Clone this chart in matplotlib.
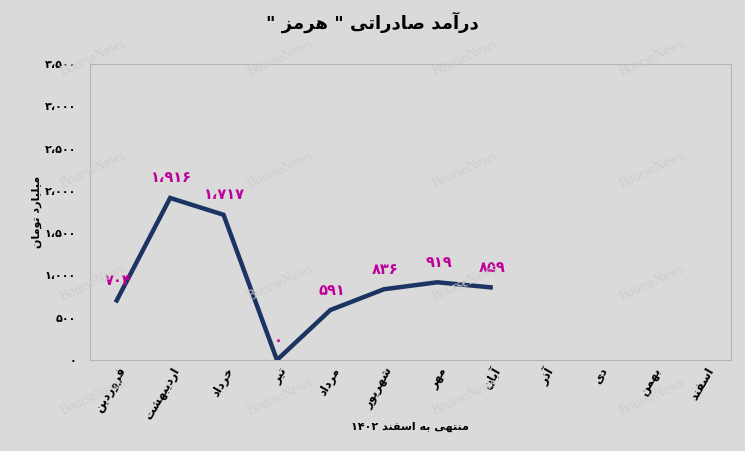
import re
import matplotlib
matplotlib.use("Agg")
import matplotlib.pyplot as plt
from matplotlib.transforms import ScaledTranslation

# data
months = ["فروردین", "اردیبهشت", "خرداد", "تیر", "مرداد", "شهریور",
          "مهر", "آبان", "آذر", "دی", "بهمن", "اسفند"]
values = [704, 1916, 1717, 0, 591, 836, 919, 859]
yticks = [0, 500, 1000, 1500, 2000, 2500, 3000, 3500]
title = 'درآمد صادراتی " هرمز "'
ylabel = "میلیارد تومان"
xlabel = "منتهی به اسفند ۱۴۰۲"

# arabic presentation forms: isolated, final, initial, medial
FORMS = {
    'ا': ('\uFE8D', '\uFE8E', None, None),
    'آ': ('\uFE81', '\uFE82', None, None),
    'ب': ('\uFE8F', '\uFE90', '\uFE91', '\uFE92'),
    'پ': ('\uFB56', '\uFB57', '\uFB58', '\uFB59'),
    'ت': ('\uFE95', '\uFE96', '\uFE97', '\uFE98'),
    'خ': ('\uFEA5', '\uFEA6', '\uFEA7', '\uFEA8'),
    'د': ('\uFEA9', '\uFEAA', None, None),
    'ذ': ('\uFEAB', '\uFEAC', None, None),
    'ر': ('\uFEAD', '\uFEAE', None, None),
    'ز': ('\uFEAF', '\uFEB0', None, None),
    'س': ('\uFEB1', '\uFEB2', '\uFEB3', '\uFEB4'),
    'ش': ('\uFEB5', '\uFEB6', '\uFEB7', '\uFEB8'),
    'ص': ('\uFEB9', '\uFEBA', '\uFEBB', '\uFEBC'),
    'ف': ('\uFED1', '\uFED2', '\uFED3', '\uFED4'),
    'ل': ('\uFEDD', '\uFEDE', '\uFEDF', '\uFEE0'),
    'م': ('\uFEE1', '\uFEE2', '\uFEE3', '\uFEE4'),
    'ن': ('\uFEE5', '\uFEE6', '\uFEE7', '\uFEE8'),
    'ه': ('\uFEE9', '\uFEEA', '\uFEEB', '\uFEEC'),
    'و': ('\uFEED', '\uFEEE', None, None),
    'ی': ('\uFBFC', '\uFBFD', '\uFBFE', '\uFBFF'),
}


def shape(s):
    out = []
    for i, c in enumerate(s):
        if c not in FORMS:
            out.append(c)
            continue
        prev = s[i - 1] if i > 0 else ''
        nxt = s[i + 1] if i + 1 < len(s) else ''
        jp = prev in FORMS and FORMS[prev][2] is not None
        jn = nxt in FORMS and FORMS[c][2] is not None
        f = FORMS[c]
        if jp and jn:
            out.append(f[3])
        elif jp:
            out.append(f[1])
        elif jn:
            out.append(f[2])
        else:
            out.append(f[0])
    return ''.join(out)


def fa(s):
    runs = re.findall(r'[۰-۹،]+|[^۰-۹،]+', shape(s))
    res = []
    for r in reversed(runs):
        res.append(r if re.match(r'[۰-۹،]', r) else r[::-1])
    return ''.join(res)


def fnum(v):
    s = f"{v:,}".replace(",", "،")
    return s.translate(str.maketrans("0123456789", "۰۱۲۳۴۵۶۷۸۹"))


bg = "#dadada"
plt.rcParams['font.family'] = ['DejaVu Sans']
fig = plt.figure(figsize=(7.45, 4.51), dpi=100, facecolor=bg)
ax = fig.add_axes([90 / 745, 91 / 451, 641 / 745, 296 / 451])
ax.set_facecolor(bg)

x = list(range(len(values)))
ax.plot(x, values, color="#1c3461", lw=3.2, solid_joinstyle='miter', zorder=3)
for xi, v in zip(x, values):
    ax.annotate(fnum(v), (xi, v), xytext=(1, 9), textcoords='offset points',
                ha='center', va='bottom', color="#c0009c", fontsize=10.5,
                fontweight='bold', zorder=4)

ax.set_xlim(-0.5, len(months) - 0.5)
ax.set_ylim(0, 3500)
ax.set_yticks(yticks)
ax.set_yticklabels([fnum(t) for t in yticks], fontsize=8, fontweight='bold')
ax.set_xticks(range(len(months)))
ax.set_xticklabels([fa(m) for m in months], rotation=60, ha='right', va='center',
                   rotation_mode='anchor', fontsize=8.5, fontweight='bold')
ax.tick_params(axis='both', length=0)
ax.tick_params(axis='y', pad=10)
ax.tick_params(axis='x', pad=6)
shift = ScaledTranslation(5 / 72, 0, fig.dpi_scale_trans)
for lab in ax.get_xticklabels():
    lab.set_transform(lab.get_transform() + shift)
for sp in ax.spines.values():
    sp.set_color("#b4b4b4")
    sp.set_linewidth(0.8)

fig.text(372 / 745, 1 - 22 / 451, fa(title), ha='center', va='center',
         fontsize=13, fontweight='bold')
fig.text(37 / 745, 1 - 212 / 451, fa(ylabel), ha='center', va='center',
         rotation=90, fontsize=8, fontweight='bold')
fig.text(410 / 745, 1 - 427 / 451, fa(xlabel), ha='center', va='center',
         fontsize=8, fontweight='bold')

# watermark
for wx in [93, 280, 465, 652]:
    for wy in [58, 170, 283, 397]:
        fig.text(wx / 745, 1 - wy / 451, "BourseNews", ha='center', va='center',
                 rotation=25, fontsize=10, family='Liberation Serif',
                 color="#cdcdcd", zorder=0)

fig.savefig("out.png", dpi=100, facecolor=bg)
